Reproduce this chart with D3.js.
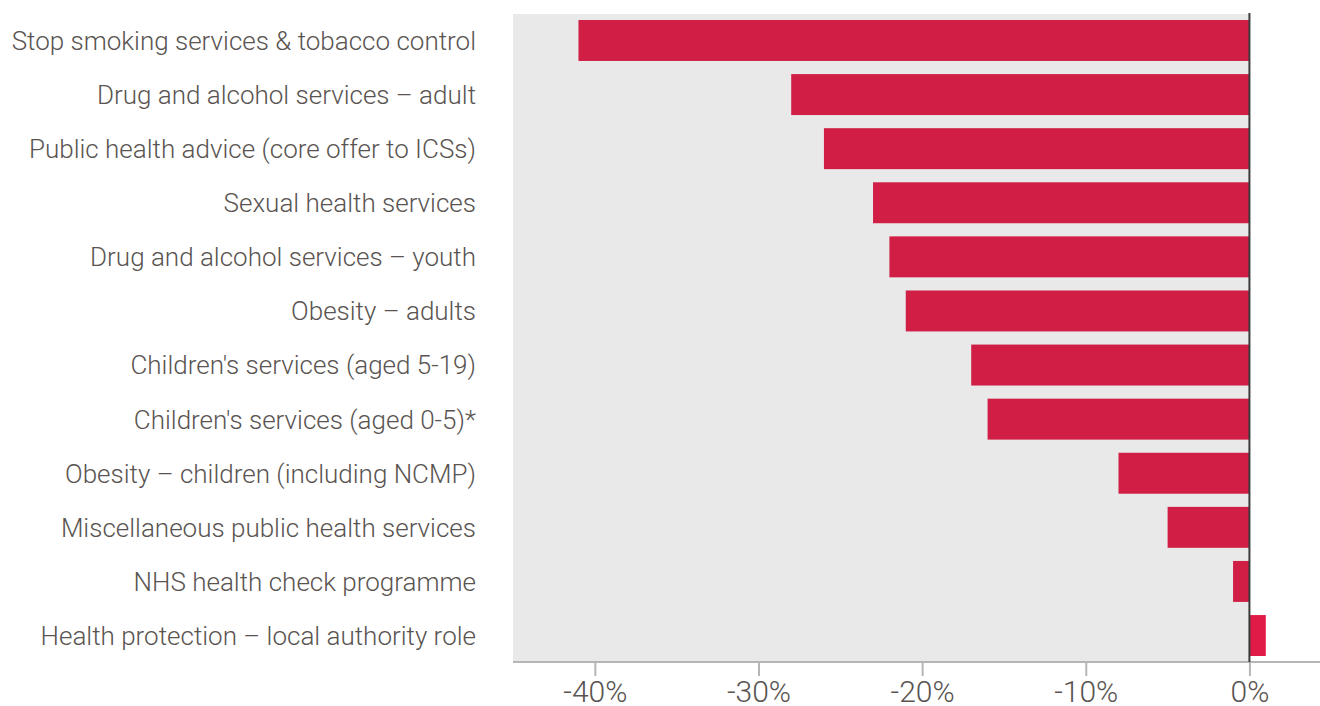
<!DOCTYPE html>
<html>
<head>
<meta charset="utf-8">
<script src="https://cdn.jsdelivr.net/npm/d3@7"></script>
<style>
  html, body { margin: 0; padding: 0; background: #ffffff; }
  svg { display: block; }
  text { font-family: "Roboto", "Liberation Sans", sans-serif; font-weight: 300; fill: #595451; }
</style>
</head>
<body>
<svg id="chart" width="1320" height="706"></svg>
<script>
// Change in public health grant allocation by service (%)
const categories = [
  "Stop smoking services & tobacco control",
  "Drug and alcohol services \u2013 adult",
  "Public health advice (core offer to ICSs)",
  "Sexual health services",
  "Drug and alcohol services \u2013 youth",
  "Obesity \u2013 adults",
  "Children's services (aged 5-19)",
  "Children's services (aged 0-5)*",
  "Obesity \u2013 children (including NCMP)",
  "Miscellaneous public health services",
  "NHS health check programme",
  "Health protection \u2013 local authority role"
];
const values = [-41, -28, -26, -23, -22, -21, -17, -16, -8, -5, -1, 1];
const tickValues = [-40, -30, -20, -10, 0];
const tickLabels = ["-40%", "-30%", "-20%", "-10%", "0%"];

const svg = d3.select("#chart");
const W = 1320, H = 706;
const plot = { left: 513, top: 14, bottom: 662 };

const x = d3.scaleLinear().domain([-45, 5]).range([plot.left, plot.left + 50 * 16.365]);
const y = d3.scaleBand().domain(categories).range([plot.top, plot.bottom])
  .paddingInner(0.243).paddingOuter(0.111);

// shaded panel behind the negative range
svg.append("rect")
  .attr("x", x(-45)).attr("y", plot.top)
  .attr("width", x(0) - x(-45)).attr("height", plot.bottom - plot.top)
  .attr("fill", "#e9e9e9");

// bars
svg.append("g").selectAll("rect")
  .data(categories.map((c, i) => ({ c, v: values[i] })))
  .join("rect")
  .attr("x", d => x(Math.min(0, d.v)))
  .attr("y", d => y(d.c))
  .attr("width", d => Math.abs(x(d.v) - x(0)))
  .attr("height", y.bandwidth())
  .attr("fill", d => d.v < 0 ? "#d01e45" : "#e11b48");

// category labels
svg.append("g").selectAll("text")
  .data(categories)
  .join("text")
  .attr("x", 476)
  .attr("y", d => y(d) + y.bandwidth() / 2)
  .attr("dy", "0.36em")
  .attr("text-anchor", "end")
  .style("font-size", "26px")
  .text(d => d);

// x axis
const axis = d3.axisBottom(x)
  .tickValues(tickValues)
  .tickSize(14)
  .tickPadding(5)
  .tickFormat((d, i) => tickLabels[i]);

const gx = svg.append("g")
  .attr("transform", `translate(0,${plot.bottom})`)
  .call(axis);
gx.select(".domain").remove();
gx.selectAll(".tick line").attr("stroke", "#b5b5b5").attr("stroke-width", 2);
gx.selectAll(".tick text")
  .style("font-size", "30px")
  .style("font-family", "Roboto, 'Liberation Sans', sans-serif")
  .style("font-weight", 300)
  .attr("fill", "#595451");

svg.append("line")
  .attr("x1", plot.left).attr("x2", W)
  .attr("y1", plot.bottom).attr("y2", plot.bottom)
  .attr("stroke", "#b5b5b5").attr("stroke-width", 2);

// zero reference line
svg.append("line")
  .attr("x1", x(0)).attr("x2", x(0))
  .attr("y1", plot.top - 1).attr("y2", plot.bottom)
  .attr("stroke", "#3a3a3a").attr("stroke-width", 2);
</script>
</body>
</html>
